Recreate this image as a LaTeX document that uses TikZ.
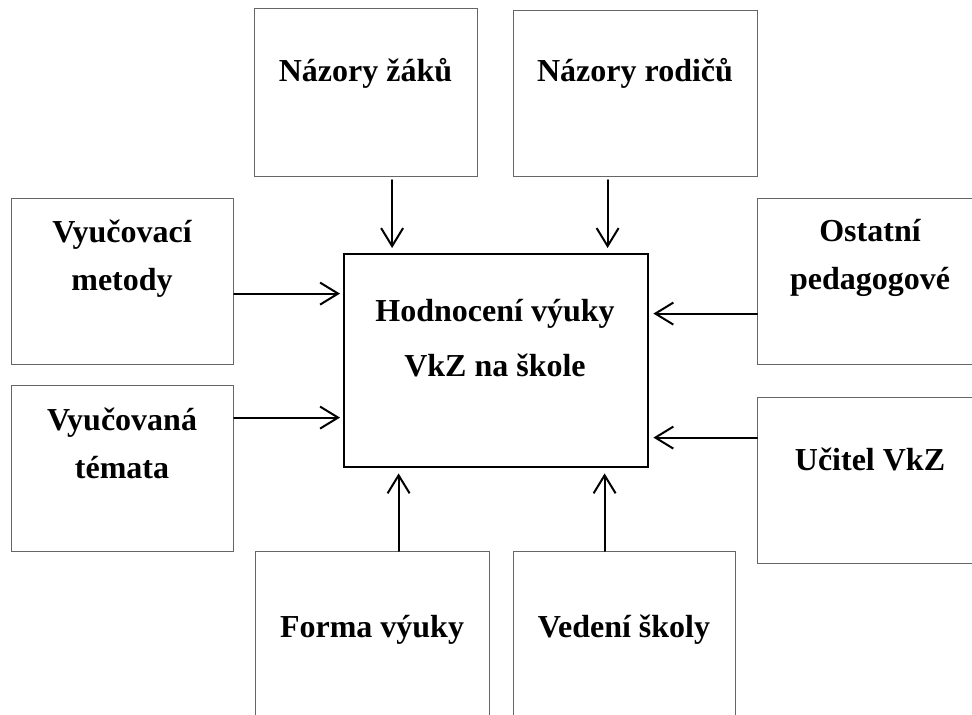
\documentclass[tikz,border=0pt]{standalone}
\usepackage{fontspec}
\setmainfont{Liberation Serif}
\usetikzlibrary{arrows.meta}

\begin{document}
\begin{tikzpicture}[x=0.5pt,y=-0.5pt,line cap=round,>={Straight Barb[length=9pt,width=11pt]},
    box/.style={draw=black!60,line width=0.6pt,anchor=north west,inner sep=0pt},
    hlavni/.style={draw=black,line width=1.2pt,anchor=north west,inner sep=0pt},
    popis/.style={font=\fontsize{16}{24}\selectfont\bfseries,align=center,anchor=base,inner sep=0pt},
    sipka/.style={->,line width=1pt}]
        \useasboundingbox (0,0) rectangle (972,715);
        \clip (0,0) rectangle (972,715);

        % the middle box
        \node[hlavni,minimum width=152pt,minimum height=106.5pt] (hod) at (343,253) {};
        \node[popis,font=\fontsize{16}{27.5}\selectfont\bfseries] (hodT) at (495,377) {Hodnocení výuky\\VkZ na škole};

        % the boxes round it
        \node[box,minimum width=111.5pt,minimum height=84pt] (zaci) at (254,8) {};
        \node[box,minimum width=122pt,minimum height=83pt] (rodice) at (513,10) {};
        \node[box,minimum width=111pt,minimum height=83pt] (metody) at (11,198) {};
        \node[box,minimum width=111pt,minimum height=83pt] (temata) at (11,385) {};
        \node[box,minimum width=113pt,minimum height=83pt] (ostatni) at (757,198) {};
        \node[box,minimum width=113pt,minimum height=83pt] (ucitel) at (757,397) {};
        \node[box,minimum width=117pt,minimum height=90pt] (forma) at (255,551) {};
        \node[box,minimum width=111pt,minimum height=90pt] (vedeni) at (513,551) {};

        % texts, anchored at the last baseline
        \node[popis] (zaciT) at (365.5,82) {Názory žáků};
        \node[popis] (rodiceT) at (635,82) {Názory rodičů};
        \node[popis] (metodyT) at (122,291) {Vyučovací\\metody};
        \node[popis] (temataT) at (122,478) {Vyučovaná\\témata};
        \node[popis] (ostatniT) at (870,290) {Ostatní\\pedagogové};
        \node[popis] (ucitelT) at (870,470) {Učitel VkZ};
        \node[popis] (formaT) at (372,637) {Forma výuky};
        \node[popis] (vedeniT) at (624,637) {Vedení školy};

        % the arrows
        \draw[sipka,shorten <=1.5pt,shorten >=2.5pt] ([xshift=13pt]zaci.south) -- ([xshift=13pt]zaci.south |- hod.north);
        \draw[sipka,shorten <=1.5pt,shorten >=2.5pt] ([xshift=-14pt]rodice.south) -- ([xshift=-14pt]rodice.south |- hod.north);
        \draw[sipka,shorten >=1.5pt] ([yshift=-6pt]metody.east) -- ([yshift=-6pt]metody.east -| hod.west);
        \draw[sipka,shorten >=1.5pt] ([yshift=25.5pt]temata.east) -- ([yshift=25.5pt]temata.east -| hod.west);
        \draw[sipka,shorten >=2pt] ([yshift=-16pt]ostatni.west) -- ([yshift=-16pt]ostatni.west -| hod.east);
        \draw[sipka,shorten >=2pt] ([yshift=21.5pt]ucitel.west) -- ([yshift=21.5pt]ucitel.west -| hod.east);
        \draw[sipka,shorten >=2.5pt] ([xshift=13pt]forma.north) -- ([xshift=13pt]forma.north |- hod.south);
        \draw[sipka,shorten >=2.5pt] ([xshift=-10pt]vedeni.north) -- ([xshift=-10pt]vedeni.north |- hod.south);
\end{tikzpicture}
\end{document}
